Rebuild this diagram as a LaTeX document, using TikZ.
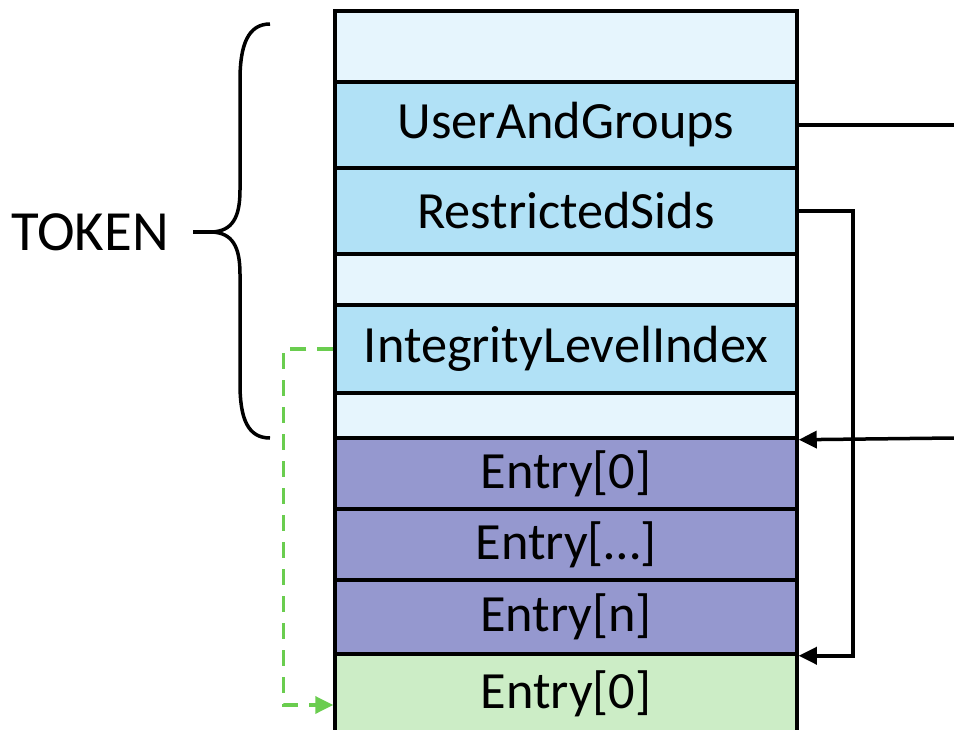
\documentclass[tikz,border=0pt]{standalone}
\usepackage{fontspec}
\setmainfont{Carlito}
\usetikzlibrary{arrows.meta}

\definecolor{padblue}{HTML}{E6F5FD}
\definecolor{fieldblue}{HTML}{B1E1F6}
\definecolor{entrypurple}{HTML}{9598CF}
\definecolor{entrygreen}{HTML}{CCEDC6}
\definecolor{dashgreen}{HTML}{6ACD4F}

\begin{document}
\begin{tikzpicture}
  [x=1bp,y=-1bp,line width=3.5bp,
   bigtext/.style={font=\fontsize{52.5}{60}\selectfont},
   cell/.style 2 args={rectangle,draw,fill=#1,minimum width=462bp,
     minimum height=#2bp,inner sep=0pt,bigtext},
   tip/.style={-{Triangle[length=18bp,width=17bp]}}]
  \useasboundingbox (0,0) rectangle (954,730);

  % token fields
  \node[cell={padblue}{71}] (pad1) at (566,46.5) {};
  \node[cell={fieldblue}{86}] (users) at (566,125) {UserAndGroups};
  \node[cell={fieldblue}{86}] (sids) at (566,211) {RestrictedSids};
  \node[cell={padblue}{51}] (pad2) at (566,279.5) {};
  \node[cell={fieldblue}{88}] (ilidx) at (566,349) {IntegrityLevelIndex};
  \node[cell={padblue}{45}] (pad3) at (566,415.5) {};
  % sid entries
  \node[cell={entrypurple}{71}] (entry0) at (566,473.5) {Entry[0]};
  \node[cell={entrypurple}{71}] (entrymid) at (566,544.5) {Entry[…]};
  \node[cell={entrypurple}{74}] (entryn) at (566,617) {Entry[n]};
  \node[cell={entrygreen}{80}] (label0) at (566,694) {Entry[0]};

  \node[font=\fontsize{57}{64}\selectfont] (token) at (90,232) {TOKEN};
  \draw (270,24) .. controls (248,24) and (240,45) .. (240,80) -- (240,190)
    .. controls (240,218) and (232,231) .. (212,232)
    .. controls (232,233) and (240,246) .. (240,274) -- (240,384)
    .. controls (240,419) and (248,438) .. (270,438);
  \draw (212,232) -- (193,232);

  \coordinate (usersout) at (954,125);
  \coordinate (entryin) at (954,438);
  \draw (users.east) -- (usersout);
  \draw[tip] (entryin) -- (pad3.south east);
  \draw[tip] (sids.east) -- ++(54,0) |- (entryn.south east);
  \draw[tip,dashgreen,dash pattern=on 16bp off 11bp]
    (ilidx.west) -- ++(-50,0) |- ([yshift=-11bp]label0.west);
\end{tikzpicture}
\end{document}
